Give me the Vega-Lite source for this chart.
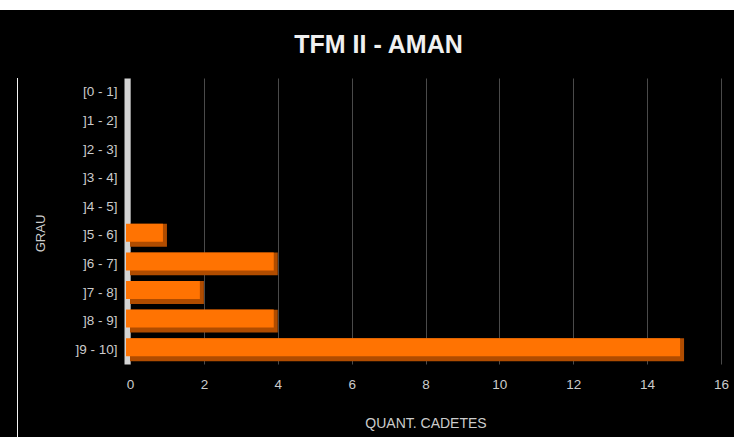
{
  "$schema": "https://vega.github.io/schema/vega-lite/v6.json",
  "background": "#000000",
  "padding": 0,
  "spacing": 23,
  "bounds": "full",
  "config": {
    "view": {"stroke": null},
    "font": "Liberation Sans"
  },
  "vconcat": [
    {
      "width": 734,
      "height": 10,
      "view": {"fill": "#ffffff", "stroke": null},
      "data": {"values": [{"from": 0, "to": 1}]},
      "mark": {"type": "rect", "color": "#ffffff"},
      "encoding": {
        "x": {"field": "from", "type": "quantitative", "scale": {"domain": [0, 1], "nice": false}, "axis": null},
        "x2": {"field": "to"}
      }
    },
    {
      "spacing": 16,
      "bounds": "full",
      "hconcat": [
        {
          "width": 1,
          "height": 10,
          "data": {"values": []},
          "mark": {"type": "point", "opacity": 0},
          "encoding": {}
        },
        {
          "width": 1,
          "height": 359,
          "view": {"fill": "#f4f4f4", "stroke": null},
          "data": {"values": []},
          "mark": {"type": "point", "opacity": 0},
          "encoding": {}
        },
        {
          "width": 591,
          "height": 286,
          "title": {
            "text": "TFM II - AMAN",
            "font": "Liberation Sans",
            "fontSize": 25,
            "fontWeight": "bold",
            "color": "#f0f0f0",
            "anchor": "middle",
            "offset": 20,
            "dx": -47
          },
          "data": {
            "values": [
              {"grau": "[0 - 1]", "cadetes": 0},
              {"grau": "]1 - 2]", "cadetes": 0},
              {"grau": "]2 - 3]", "cadetes": 0},
              {"grau": "]3 - 4]", "cadetes": 0},
              {"grau": "]4 - 5]", "cadetes": 0},
              {"grau": "]5 - 6]", "cadetes": 1},
              {"grau": "]6 - 7]", "cadetes": 4},
              {"grau": "]7 - 8]", "cadetes": 2},
              {"grau": "]8 - 9]", "cadetes": 4},
              {"grau": "]9 - 10]", "cadetes": 15}
            ]
          },
          "encoding": {
            "y": {
              "field": "grau",
              "type": "nominal",
              "sort": null,
              "scale": {"paddingInner": 0.2, "paddingOuter": 0.1},
              "axis": {
                "title": "GRAU",
                "titleFont": "Liberation Sans",
                "titleFontSize": 13,
                "titleFontWeight": "normal",
                "titleColor": "#cccccc",
                "titlePadding": 27,
                "titleY": 155,
                "labelFont": "Liberation Sans",
                "labelFontSize": 13.5,
                "labelColor": "#cccccc",
                "labelPadding": 10,
                "ticks": false,
                "tickSize": 0,
                "grid": false,
                "domain": true,
                "domainColor": "#d4d4d4",
                "domainWidth": 6,
                "offset": 3
              }
            },
            "x": {
              "field": "cadetes",
              "type": "quantitative",
              "scale": {"domain": [0, 16], "nice": false},
              "axis": {
                "title": "QUANT. CADETES",
                "titleFont": "Liberation Sans",
                "titleFontSize": 14,
                "titleFontWeight": "normal",
                "titleColor": "#cccccc",
                "titlePadding": 26,
                "values": [0, 2, 4, 6, 8, 10, 12, 14, 16],
                "labelFont": "Liberation Sans",
                "labelFontSize": 13.5,
                "labelColor": "#cccccc",
                "labelPadding": 13,
                "labelFlush": false,
                "ticks": false,
                "tickSize": 0,
                "domain": false,
                "grid": true,
                "gridColor": "#4a4a4a",
                "gridWidth": 1
              }
            }
          },
          "layer": [
            {
              "mark": {"type": "bar", "color": "#b04c00"}
            },
            {
              "mark": {
                "type": "bar",
                "color": "#ff7302",
                "height": 18,
                "yOffset": -2.5,
                "xOffset": -4
              }
            }
          ]
        }
      ]
    }
  ]
}
